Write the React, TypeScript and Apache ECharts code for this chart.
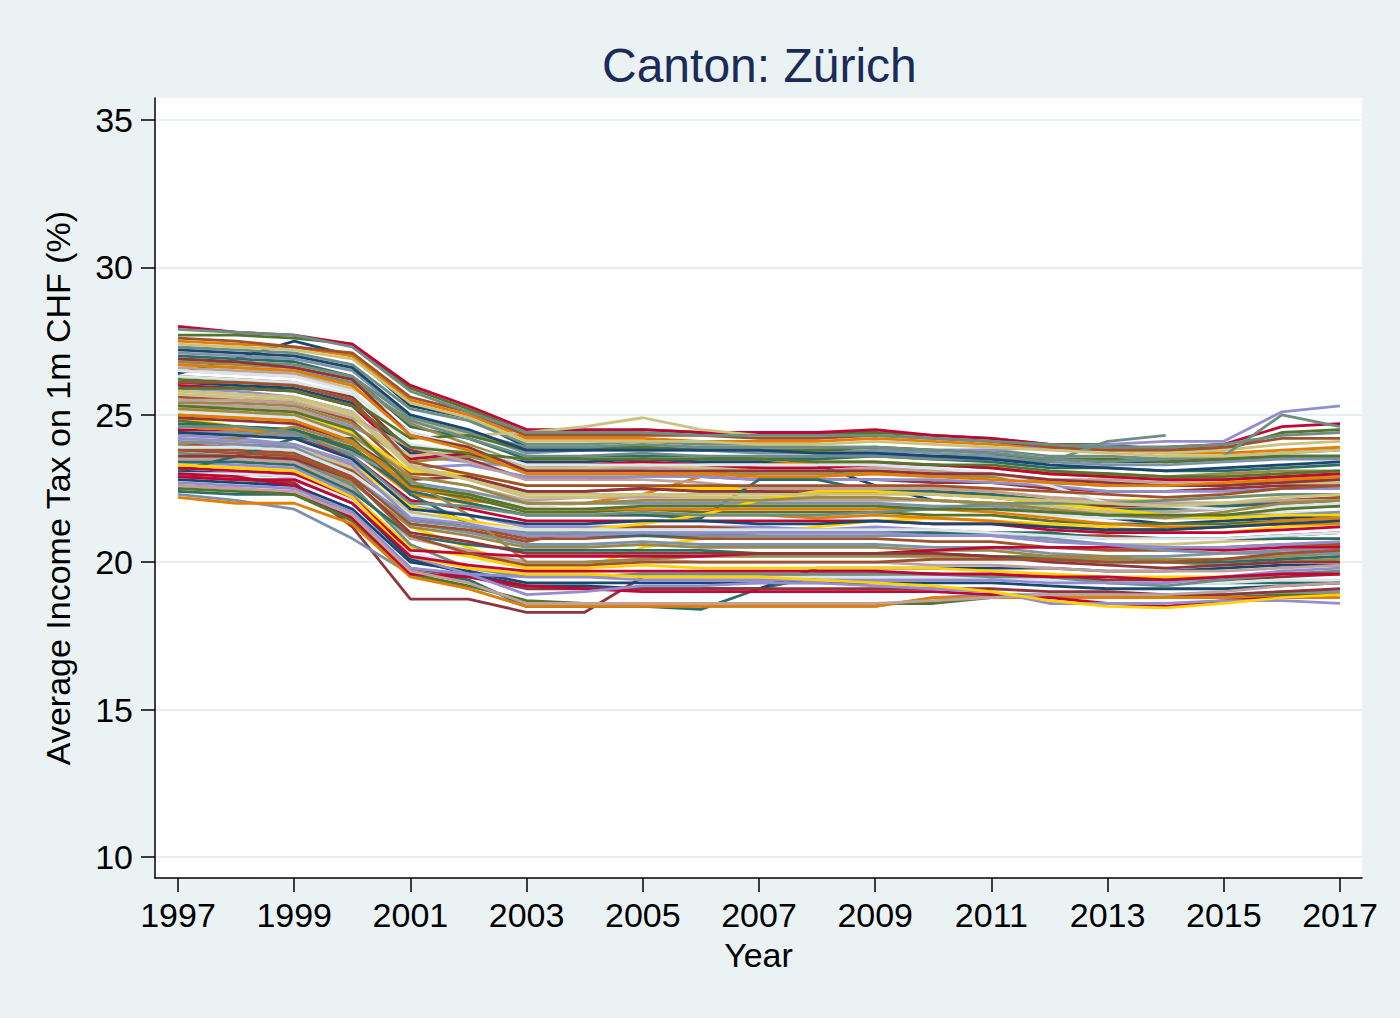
import { useEffect, useRef } from "react";
import * as echarts from "echarts";

const years = [1997, 1998, 1999, 2000, 2001, 2002, 2003, 2004, 2005, 2006, 2007, 2008, 2009, 2010, 2011, 2012, 2013, 2014, 2015, 2016, 2017];
const xTicks = [1997, 1999, 2001, 2003, 2005, 2007, 2009, 2011, 2013, 2015, 2017];
const yTicks = [10, 15, 20, 25, 30, 35];

// stata s2color
const palette = ["#1a476f", "#90353b", "#55752f", "#e37e00", "#6e8e84", "#c10534", "#938dd2", "#cac27e", "#a0522d", "#7b92a8", "#2d6d66", "#9c8847", "#bfa19c", "#ffd200", "#d9e6eb"];

const m01 = [28.0, 27.8, 27.7, 27.4, 26.0, 25.3, 24.5, 24.5, 24.5, 24.4, 24.4, 24.4, 24.5, 24.3, 24.2, 24.0, 23.9, 23.9, 24.0, 24.6, 24.7];
const m02 = [27.7, 27.7, 27.6, 27.4, 25.9, 25.2, 24.4, 24.4, 24.5, 24.4, 24.4, 24.4, 24.4, 24.3, 24.2, 24.0, 24.0, 23.8, 23.8, 24.4, 24.5];
const m03 = [27.5, 27.4, 27.3, 27.0, 25.5, 25.0, 24.2, 24.2, 24.2, 24.1, 24.1, 24.1, 24.2, 24.1, 24.0, 23.9, 23.8, 23.7, 23.7, 23.8, 23.9];
const m04 = [27.3, 27.2, 27.1, 26.7, 25.2, 24.8, 24.0, 24.0, 24.1, 24.0, 24.0, 23.9, 23.9, 23.8, 23.8, 23.6, 23.6, 23.5, 23.6, 23.7, 23.8];
const m05 = [26.4, 26.9, 27.5, 27.0, 25.3, 24.9, 23.9, 23.9, 23.9, 23.8, 23.8, 23.8, 23.7, 23.6, 23.6, 23.5, 23.4, 23.4, 23.5, 23.6, 23.6];
const m06 = [27.6, 27.5, 27.3, 27.1, 25.6, 25.1, 24.3, 24.3, 24.3, 24.3, 24.2, 24.2, 24.3, 24.2, 24.1, 23.9, 23.8, 23.8, 23.9, 24.2, 24.2];
const m07 = [27.1, 27.0, 26.9, 26.5, 24.9, 24.4, 23.7, 23.8, 23.8, 23.8, 23.7, 23.7, 23.8, 23.7, 23.6, 23.4, 23.3, 23.3, 23.4, 23.5, 23.5];
const m08 = [27.0, 26.9, 26.8, 26.3, 24.6, 24.2, 23.5, 23.6, 23.6, 23.6, 23.5, 23.5, 23.6, 23.5, 23.4, 23.2, 23.2, 23.1, 23.1, 23.2, 23.3];
const m09 = [26.8, 26.7, 26.6, 26.2, 24.7, 24.0, 23.3, 23.3, 23.4, 23.3, 23.3, 23.3, 23.3, 23.3, 23.2, 23.0, 23.0, 22.9, 23.0, 23.1, 23.1];
const m10 = [26.6, 26.5, 26.4, 26.0, 24.4, 23.9, 23.2, 23.2, 23.2, 23.2, 23.2, 23.1, 23.2, 23.1, 23.0, 22.8, 22.8, 22.7, 22.8, 22.9, 23.0];
const m11 = [26.5, 26.4, 26.3, 25.8, 24.0, 23.7, 23.0, 23.0, 23.1, 23.1, 23.0, 23.0, 23.0, 23.0, 22.9, 22.7, 22.6, 22.6, 22.6, 22.7, 22.8];
const m12 = [26.3, 26.2, 26.1, 25.6, 23.8, 23.5, 22.8, 22.8, 22.9, 22.9, 22.8, 22.8, 22.8, 22.7, 22.7, 22.5, 22.4, 22.4, 22.5, 22.6, 22.6];
const m13 = [26.2, 26.1, 26.0, 25.5, 24.2, 24.3, 23.8, 23.8, 23.9, 23.8, 23.8, 23.8, 23.9, 23.8, 23.7, 23.5, 23.5, 23.4, 23.5, 23.6, 23.6];
const m14 = [26.0, 25.9, 25.8, 25.3, 23.5, 23.7, 23.3, 23.3, 23.4, 23.3, 23.2, 23.2, 23.3, 23.3, 23.2, 23.0, 22.9, 22.8, 22.8, 22.9, 23.0];
const m15 = [25.9, 25.8, 25.6, 25.1, 23.2, 23.3, 22.9, 22.9, 22.9, 22.9, 22.8, 22.8, 22.8, 22.8, 22.7, 22.6, 22.4, 22.4, 22.4, 22.5, 22.5];
const m16 = [25.7, 25.6, 25.5, 24.9, 23.6, 23.8, 23.2, 23.2, 23.3, 23.2, 23.1, 23.1, 23.1, 23.0, 22.9, 22.7, 22.6, 22.6, 22.6, 22.7, 22.7];
const m17 = [25.6, 25.5, 25.4, 24.8, 23.0, 22.9, 22.4, 22.4, 22.5, 22.4, 22.4, 22.4, 22.4, 22.3, 22.3, 22.1, 22.0, 22.0, 22.0, 22.1, 22.2];
const m18 = [25.4, 25.4, 25.3, 24.7, 23.4, 23.6, 23.1, 23.1, 23.1, 23.0, 23.0, 23.0, 23.0, 22.9, 22.9, 22.7, 22.6, 22.6, 22.6, 22.8, 22.8];
const m19 = [25.3, 25.3, 25.2, 24.5, 22.9, 22.6, 22.1, 22.2, 22.2, 22.2, 22.1, 22.1, 22.1, 22.1, 22.0, 21.8, 21.7, 21.7, 21.8, 21.9, 21.9];
const m20 = [25.2, 25.2, 25.1, 24.4, 23.1, 23.0, 22.6, 22.6, 22.6, 22.5, 22.5, 22.5, 22.6, 22.5, 22.4, 22.2, 22.1, 22.1, 22.2, 22.3, 22.3];
const m21 = [25.1, 25.0, 24.9, 24.2, 22.7, 22.4, 21.9, 22.0, 22.0, 21.9, 21.9, 21.9, 21.9, 21.9, 21.8, 21.6, 21.5, 21.5, 21.6, 21.7, 21.7];
const m22 = [24.9, 24.8, 24.7, 24.1, 22.8, 22.9, 22.4, 22.4, 22.5, 22.4, 22.4, 22.3, 22.4, 22.3, 22.2, 22.0, 21.9, 21.9, 21.9, 22.0, 22.1];
const m23 = [24.8, 24.6, 24.5, 23.9, 22.5, 22.2, 21.7, 21.7, 21.8, 21.7, 21.7, 21.7, 21.7, 21.6, 21.6, 21.4, 21.3, 21.3, 21.3, 21.4, 21.5];
const m24 = [24.6, 24.5, 24.4, 23.8, 22.3, 22.0, 21.6, 21.6, 21.6, 21.6, 21.6, 21.5, 21.6, 21.5, 21.4, 21.2, 21.1, 21.1, 21.2, 21.3, 21.3];
const m25 = [24.5, 24.4, 24.3, 23.6, 22.1, 21.8, 21.4, 21.4, 21.4, 21.4, 21.4, 21.4, 21.4, 21.3, 21.3, 21.1, 21.0, 21.0, 21.0, 21.1, 21.2];
const m26 = [24.3, 24.2, 24.0, 23.4, 21.9, 21.6, 21.2, 21.2, 21.2, 21.2, 21.2, 21.1, 21.2, 21.1, 21.0, 20.9, 20.8, 20.8, 20.8, 20.9, 21.0];
const m27 = [24.2, 24.0, 23.9, 23.2, 21.7, 21.4, 21.0, 21.0, 21.1, 21.0, 21.0, 21.0, 21.0, 20.9, 20.9, 20.7, 20.6, 20.6, 20.7, 20.8, 20.8];
const m28 = [24.0, 23.9, 23.8, 23.1, 21.5, 21.2, 20.8, 20.8, 20.9, 20.8, 20.8, 20.8, 20.8, 20.7, 20.7, 20.5, 20.4, 20.4, 20.5, 20.6, 20.6];
const m29 = [23.9, 23.8, 23.6, 22.9, 21.3, 21.0, 20.6, 20.6, 20.7, 20.6, 20.6, 20.6, 20.6, 20.5, 20.5, 20.3, 20.2, 20.2, 20.3, 20.4, 20.4];
const m30 = [23.6, 23.5, 23.4, 22.7, 21.2, 20.9, 20.5, 20.5, 20.6, 20.5, 20.5, 20.5, 20.5, 20.4, 20.4, 20.2, 20.1, 20.1, 20.1, 20.2, 20.3];
const m31 = [23.5, 23.5, 23.4, 22.5, 20.8, 20.4, 20.0, 20.0, 20.1, 20.0, 20.0, 20.0, 20.0, 19.9, 19.9, 19.8, 19.7, 19.7, 19.7, 19.8, 19.9];
const m32 = [23.3, 23.2, 23.1, 22.3, 20.5, 20.2, 19.8, 19.8, 19.9, 19.8, 19.8, 19.8, 19.8, 19.8, 19.7, 19.6, 19.5, 19.5, 19.5, 19.6, 19.7];
const m33 = [23.0, 23.0, 22.9, 22.1, 20.3, 19.9, 19.5, 19.5, 19.6, 19.5, 19.5, 19.5, 19.5, 19.5, 19.5, 19.4, 19.3, 19.3, 19.3, 19.4, 19.4];
const m34 = [22.8, 22.7, 22.6, 21.8, 20.0, 19.7, 19.3, 19.3, 19.3, 19.3, 19.3, 19.3, 19.3, 19.3, 19.3, 19.2, 19.1, 19.1, 19.1, 19.2, 19.3];
const m35 = [22.6, 22.5, 22.3, 21.6, 19.8, 19.5, 19.1, 19.1, 19.1, 19.1, 19.1, 19.1, 19.1, 19.1, 19.1, 19.0, 19.0, 18.9, 18.9, 19.0, 19.1];
const m36 = [22.5, 22.4, 22.3, 21.4, 19.6, 19.2, 18.7, 18.6, 18.6, 18.6, 18.6, 18.6, 18.6, 18.6, 18.8, 18.8, 18.8, 18.8, 18.8, 18.9, 18.9];
const m37 = [22.2, 22.0, 22.0, 21.3, 19.5, 19.1, 18.5, 18.5, 18.5, 18.5, 18.5, 18.5, 18.5, 18.8, 18.8, 18.8, 18.8, 18.8, 18.8, 18.8, 18.8];
const m38 = [22.9, 22.8, 22.7, 21.2, 18.75, 18.75, 18.3, 18.3, 19.5, 19.5, 19.5, 19.6, 19.6, 19.6, 19.5, 19.5, 19.4, 19.4, 19.4, 19.5, 19.6];
const m39 = [25.0, 24.9, 24.8, 24.2, 22.6, 22.1, 21.9, 22.0, 22.3, 22.9, 23.3, 23.4, 23.4, 23.3, 23.2, 23.0, 22.9, 22.8, 22.8, 22.9, 22.9];
const m40 = [24.7, 24.6, 24.5, 23.8, 22.4, 22.0, 21.6, 21.6, 21.6, 21.5, 22.8, 22.8, 22.4, 22.4, 22.3, 22.1, 21.8, 21.8, 21.9, 22.0, 22.0];
const m41 = [26.1, 26.0, 25.9, 25.4, 23.7, 23.6, 23.4, 23.4, 23.5, 23.4, 23.4, 23.3, 22.6, 22.1, 22.0, 21.8, 21.5, 21.3, 21.4, 21.5, 21.6];
const m42 = [23.1, 23.0, 22.9, 22.0, 20.1, 19.6, 19.2, 19.2, 19.1, 19.1, 19.1, 19.8, 19.8, 19.8, 19.8, 19.8, 19.7, 19.7, 19.8, 19.9, 19.9];
const m43 = [22.4, 22.3, 22.3, 21.5, 19.7, 19.4, 18.5, 18.5, 18.5, 18.4, 19.1, 19.5, 19.6, 19.6, 19.5, 19.5, 19.3, 19.3, 19.3, 19.3, 19.3];
const m44 = [22.3, 22.1, 21.8, 20.8, 19.6, 19.1, 18.5, 18.5, 18.5, 18.5, 18.5, 18.5, 18.5, 18.8, 18.9, 18.9, 18.9, 18.9, 18.9, 19.0, 19.0];
const m45 = [25.5, 25.3, 25.2, 24.6, 23.6, 23.4, 23.2, 23.3, 23.3, 23.4, 23.5, 23.6, 23.7, 23.8, 23.8, 23.9, 24.0, 24.1, 24.1, 25.1, 25.3];
const m46 = [26.7, 26.6, 26.5, 26.1, 24.8, 24.2, 23.6, 23.6, 23.7, 23.6, 23.6, 23.6, 23.6, 23.5, 23.5, 23.4, 24.1, 24.3, null, null, null];
const m47 = [26.9, 26.8, 26.7, 26.3, 24.9, 24.4, 23.9, 23.9, 24.0, 23.9, 23.9, 23.9, 23.9, 23.8, 23.7, 23.5, 23.4, 23.5, 23.6, 25.0, 24.6];
const m48 = [26.5, 26.4, 26.3, 25.9, 24.8, 24.3, 24.4, 24.6, 24.9, 24.5, 24.3, 24.3, 24.3, 24.2, 24.1, 23.9, 23.8, 23.7, 23.8, 24.0, 24.1];
const m49 = [24.9, 24.6, 24.4, 23.5, 21.2, 20.5, 19.8, 19.8, 20.5, 20.8, 21.0, 21.2, 21.4, 21.5, 21.4, 21.3, 21.2, 21.0, 21.0, 21.2, 21.3];
const m50 = [23.7, 23.6, 23.5, 22.6, 20.6, 19.8, 19.5, 19.5, 19.6, 19.6, 19.6, 19.6, 19.6, 19.6, 19.5, 19.5, 19.3, 19.2, 19.4, 19.6, 19.7];
const m51 = [23.0, 22.9, 22.6, 21.5, 19.6, 19.5, 19.2, 19.1, 19.0, 19.0, 19.0, 19.0, 19.0, 19.0, 18.9, 18.8, 18.6, 18.5, 18.7, 18.8, 18.9];
const m52 = [23.4, 23.3, 23.2, 22.3, 20.2, 19.6, 18.9, 19.0, 19.2, 19.2, 19.3, 19.3, 19.2, 19.1, 19.0, 18.6, 18.6, 18.6, 18.7, 18.7, 18.6];
const m53 = [25.8, 25.7, 25.6, 25.1, 23.3, 22.8, 22.2, 22.2, 22.3, 22.2, 22.2, 22.2, 22.2, 22.1, 22.0, 21.9, 21.7, 21.5, 21.5, 21.8, 22.0];
const m54 = [23.8, 23.8, 23.7, 22.9, 21.3, 21.1, 20.7, 21.1, 21.2, 21.2, 21.1, 21.1, 21.1, 21.0, 21.0, 20.9, 20.9, 20.8, 20.8, 20.9, 21.0];
const m55 = [24.4, 24.4, 24.3, 23.7, 22.7, 22.4, 22.0, 22.0, 22.0, 22.0, 22.0, 22.0, 22.0, 21.9, 21.9, 21.7, 21.6, 21.6, 21.6, 21.6, 21.7];
const m56 = [23.1, 23.6, 24.2, 24.2, 22.3, 21.3, 20.9, 20.9, 20.9, 20.9, 21.0, 21.0, 21.0, 21.0, 21.0, 21.0, 20.8, 20.8, 20.8, 20.8, 20.8];
const m57 = [24.0, 24.2, 24.6, 24.0, 22.8, 21.6, 20.0, 20.0, 20.1, 20.2, 20.2, 20.2, 20.2, 20.2, 20.2, 20.2, 20.2, 20.0, 19.9, 20.0, 20.1];
const m58 = [25.5, 25.5, 25.4, 24.9, 23.9, 23.4, 22.8, 22.8, 22.8, 22.7, 22.5, 22.5, 22.5, 22.5, 22.4, 22.2, 22.1, 22.0, 22.0, 22.1, 22.1];
const m59 = [24.2, 24.1, 24.0, 23.3, 21.9, 21.4, 21.1, 21.1, 21.3, 21.6, 22.1, 22.4, 22.4, 22.3, 22.2, 22.0, 21.8, 21.6, 21.5, 21.6, 21.6];
const m60 = [26.3, 26.2, 26.1, 25.7, 24.4, 23.9, 23.3, 23.3, 23.3, 23.3, 23.3, 23.3, 23.3, 23.2, 23.0, 22.6, 22.0, 21.9, 21.8, 21.9, 22.0];
const m61 = [27.2, 27.1, 27.0, 26.6, 25.0, 24.5, 23.8, 23.8, 23.8, 23.8, 23.8, 23.7, 23.7, 23.6, 23.5, 23.3, 23.2, 23.1, 23.2, 23.3, 23.4];
const m62 = [26.9, 26.8, 26.6, 26.2, 24.3, 23.9, 23.1, 23.1, 23.1, 23.1, 23.1, 23.1, 23.1, 23.0, 23.0, 22.8, 22.7, 22.6, 22.6, 22.7, 22.8];
const m63 = [25.9, 25.9, 25.8, 25.3, 23.9, 23.7, 23.5, 23.5, 23.5, 23.5, 23.5, 23.4, 23.4, 23.3, 23.3, 23.1, 23.0, 22.9, 22.9, 23.0, 23.1];
const m64 = [25.0, 24.9, 24.8, 24.1, 22.5, 22.3, 21.8, 21.8, 21.8, 21.8, 21.8, 21.8, 21.8, 21.8, 21.7, 21.5, 21.3, 21.2, 21.2, 21.4, 21.5];
const m65 = [24.6, 24.6, 24.4, 23.6, 22.0, 21.9, 21.6, 21.6, 21.7, 21.6, 21.6, 21.6, 21.7, 21.8, 22.0, 22.0, 22.0, 22.1, 22.2, 22.3, 22.3];
const m66 = [23.2, 23.1, 23.0, 22.2, 20.4, 20.3, 20.2, 20.2, 20.2, 20.2, 20.3, 20.3, 20.3, 20.4, 20.5, 20.5, 20.5, 20.5, 20.4, 20.5, 20.5];
const m67 = [22.7, 22.6, 22.5, 21.7, 19.8, 19.6, 19.5, 19.5, 19.4, 19.4, 19.4, 19.4, 19.4, 19.4, 19.4, 19.3, 19.3, 19.3, 19.5, 19.7, 19.8];
const m68 = [27.4, 27.3, 27.2, 26.9, 25.4, 24.9, 24.1, 24.1, 24.1, 24.1, 24.0, 24.0, 24.1, 24.0, 23.9, 23.8, 23.7, 23.6, 23.6, 23.7, 23.8];
const m69 = [26.1, 26.1, 26.0, 25.5, 23.4, 23.0, 22.6, 22.6, 22.6, 22.6, 22.6, 22.6, 22.6, 22.6, 22.5, 22.4, 22.3, 22.2, 22.3, 22.5, 22.6];
const m70 = [24.1, 24.0, 23.9, 23.0, 21.4, 21.2, 21.0, 21.0, 21.0, 20.9, 20.9, 20.9, 20.9, 20.9, 20.9, 20.8, 20.6, 20.4, 20.3, 20.3, 20.3];
const m71 = [23.4, 23.4, 23.3, 22.4, 20.9, 20.6, 20.4, 20.4, 20.4, 20.4, 20.3, 20.3, 20.3, 20.3, 20.2, 20.1, 20.0, 20.0, 20.0, 20.1, 20.2];
const m72 = [25.2, 25.1, 25.0, 24.3, 22.9, 22.6, 22.0, 22.0, 22.1, 22.1, 22.1, 22.2, 22.2, 22.1, 22.0, 21.8, 21.6, 21.5, 21.7, 22.0, 22.1];
const m73 = [22.6, 22.5, 22.4, 21.6, 19.7, 19.3, 18.6, 18.6, 18.6, 18.6, 18.6, 18.6, 18.6, 18.7, 18.8, 18.9, 18.9, 18.9, 19.0, 19.2, 19.3];
const m74 = [23.3, 23.2, 23.1, 22.2, 20.2, 19.8, 19.6, 19.6, 19.5, 19.5, 19.5, 19.4, 19.3, 19.2, 19.0, 18.7, 18.5, 18.45, 18.6, 18.8, 18.9];
const m75 = [23.9, 23.9, 23.8, 23.0, 21.6, 21.3, 21.1, 21.1, 21.1, 21.1, 21.1, 21.1, 21.1, 21.1, 21.0, 20.9, 20.8, 20.8, 20.8, 20.9, 21.0];
const m76 = [24.4, 24.3, 24.2, 23.5, 21.8, 21.6, 21.3, 21.3, 21.4, 21.4, 21.3, 21.3, 21.4, 21.3, 21.3, 21.2, 21.1, 21.1, 21.2, 21.3, 21.4];
const m77 = [23.6, 23.6, 23.5, 22.8, 21.0, 20.7, 20.3, 20.3, 20.3, 20.3, 20.3, 20.3, 20.3, 20.3, 20.2, 20.0, 19.9, 19.8, 19.9, 20.0, 20.0];
const m78 = [25.3, 25.2, 25.1, 24.5, 22.6, 22.3, 21.8, 21.8, 21.9, 21.9, 21.9, 21.9, 21.9, 21.8, 21.8, 21.7, 21.6, 21.6, 21.6, 21.8, 21.9];
const m79 = [26.7, 26.6, 26.5, 26.0, 24.3, 23.8, 23.0, 23.0, 23.0, 23.0, 22.9, 22.9, 23.0, 22.9, 22.8, 22.7, 22.6, 22.6, 22.7, 22.8, 22.9];
const m80 = [27.9, 27.8, 27.7, 27.3, 25.8, 25.1, 24.4, 24.4, 24.4, 24.3, 24.3, 24.3, 24.3, 24.2, 24.1, 24.0, 23.9, 23.9, 24.0, 24.3, 24.4];
const m81 = [22.9, 22.8, 22.8, 22.0, 20.2, 19.9, 19.7, 19.7, 19.7, 19.7, 19.7, 19.7, 19.7, 19.6, 19.6, 19.5, 19.5, 19.4, 19.5, 19.6, 19.6];
const m82 = [24.2, 24.1, 24.0, 23.3, 21.5, 21.3, 20.9, 20.9, 21.0, 21.0, 21.0, 21.0, 21.0, 20.9, 20.9, 20.7, 20.6, 20.5, 20.5, 20.6, 20.7];
const m83 = [25.8, 25.7, 25.6, 25.0, 23.2, 22.8, 22.3, 22.3, 22.3, 22.3, 22.3, 22.3, 22.3, 22.3, 22.2, 22.1, 22.0, 21.9, 22.0, 22.2, 22.3];
const m84 = [23.8, 23.7, 23.6, 22.8, 20.9, 20.3, 19.9, 19.9, 20.0, 20.0, 20.0, 20.0, 20.0, 20.1, 20.1, 20.1, 20.0, 20.0, 20.1, 20.3, 20.4];

// drawing order, colours follow the palette by position
const lines = [
  m05, m38, m02, m03, m04, m01, m45, m48, m06, m07, m08, m09, m10, m49, m11,
  m41, m12, m13, m39, m46, m14, m15, m16, m17, m44, m43, m18, m19, m20, m21,
  m42, m22, m23, m24, m47, m25, m26, m27, m28, m29, m40, m30, m31, m32, m33,
  m34, m35, m36, m37, m50, m51, m52, m53, m54, m55, m56, m57, m58, m59, m60,
  m61, m62, m63, m64, m65, m66, m67, m68, m69, m70, m71, m72, m73, m74, m75,
  m76, m77, m78, m79, m80, m81, m82, m83, m84,
];

const font = "Liberation Sans, Arial, Helvetica, sans-serif";

export default function App() {
  const chartRef = useRef<HTMLDivElement>(null);

  useEffect(() => {
    if (!chartRef.current) return;
    const chart = echarts.init(chartRef.current, undefined, { renderer: "svg" });

    const series = lines.map((vals, i) => ({
      type: "line",
      data: years.map((y, j) => [y, vals[j]]),
      showSymbol: false,
      connectNulls: false,
      silent: true,
      lineStyle: { color: palette[i % palette.length], width: 2.8 },
    }));

    const option: any = {
      animation: false,
      backgroundColor: "#eaf2f3",
      title: {
        text: "Canton: Zürich",
        left: 597,
        top: 36,
        textStyle: { color: "#1b2b57", fontSize: 48, fontWeight: "normal", fontFamily: font },
      },
      grid: {
        left: 155,
        right: 38,
        top: 98,
        bottom: 140,
        show: true,
        backgroundColor: "#ffffff",
        borderWidth: 0,
      },
      xAxis: {
        type: "value",
        min: 1996.604,
        max: 2017.379,
        name: "Year",
        nameLocation: "middle",
        nameGap: 60,
        nameTextStyle: { color: "#000", fontSize: 34, fontFamily: font },
        axisLine: { show: true, onZero: false, lineStyle: { color: "#000", width: 1.5 } },
        axisTick: { show: true, length: 14, lineStyle: { color: "#000", width: 1.5 }, customValues: xTicks },
        axisLabel: { color: "#000", fontSize: 34, fontFamily: font, margin: 20, customValues: xTicks, formatter: (v: number) => String(v) },
        splitLine: { show: false },
      },
      yAxis: {
        type: "value",
        min: 9.288,
        max: 35.746,
        name: "Average Income Tax on 1m CHF (%)",
        nameLocation: "middle",
        nameGap: 80,
        nameTextStyle: { color: "#000", fontSize: 34, fontFamily: font },
        axisLine: { show: true, onZero: false, lineStyle: { color: "#000", width: 1.5 } },
        axisTick: { show: true, length: 14, lineStyle: { color: "#000", width: 1.5 }, customValues: yTicks },
        axisLabel: { color: "#000", fontSize: 34, fontFamily: font, margin: 22, customValues: yTicks, formatter: (v: number) => String(v) },
        splitLine: { show: true, lineStyle: { color: "#e6eff1", width: 2 } },
      },
      series,
    };

    chart.setOption(option);
    return () => chart.dispose();
  }, []);

  return <div ref={chartRef} style={{ position: "absolute", left: 0, top: 0, width: 1400, height: 1018 }} />;
}
